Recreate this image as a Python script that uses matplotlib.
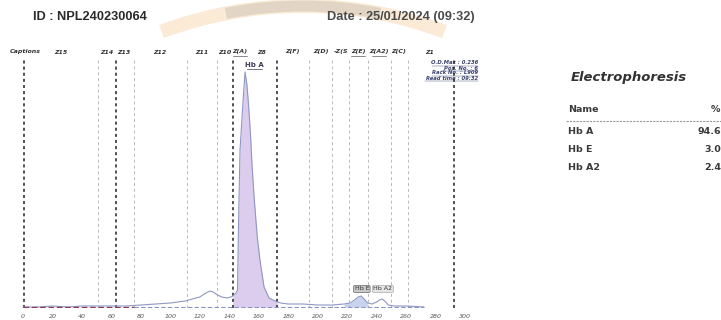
import numpy as np
import matplotlib
matplotlib.use('Agg')
import matplotlib.pyplot as plt
from matplotlib.patches import Arc

# Scan values (mobility, O.D.)
mobility = [0, 10, 20, 30, 40, 50, 60, 70, 80, 90, 100, 110, 115, 120, 123, 125.5, 127,
            129, 132, 135, 138.5, 141, 142.5, 144.6, 145.6, 146.0, 146.6, 147.3, 149.4,
            150.7, 152.0, 153.2, 154.5, 155.5, 157, 159, 161, 163.6, 167, 172.5, 175, 180,
            190, 200, 210, 218, 222, 225, 227.5, 229.5, 231.5, 234, 237, 240, 242, 243.8,
            245.5, 248, 252, 260, 272]
od = [0.000, 0.000, 0.001, 0.000, 0.001, 0.001, 0.001, 0.001, 0.002, 0.003, 0.004, 0.006,
      0.008, 0.010, 0.013, 0.015, 0.016, 0.015, 0.012, 0.010, 0.009, 0.010, 0.011, 0.014,
      0.017, 0.057, 0.107, 0.157, 0.207, 0.235, 0.222, 0.200, 0.170, 0.140, 0.107, 0.070,
      0.045, 0.020, 0.009, 0.005, 0.004, 0.003, 0.003, 0.002, 0.002, 0.003, 0.004, 0.007,
      0.010, 0.011, 0.008, 0.004, 0.003, 0.005, 0.007, 0.008, 0.006, 0.002, 0.001, 0.001,
      0.000]

zone_major = [1, 63, 142.5, 172.5, 292.6]
zone_minor = [51, 75, 111, 132, 194, 210, 221, 234, 250, 261]
zone_names = ['Z15', 'Z14', 'Z13', 'Z12', 'Z11', 'Z10', 'Z(A)', 'Z8', 'Z(F)', 'Z(D)',
              '-Z(S', 'Z(E)', 'Z(A2)', 'Z(C)', 'Z1']
zone_pos = [25.8, 57, 68.6, 93, 121.5, 137, 147.3, 162, 183, 202, 216, 227.4, 241.6, 255, 276]
underlined = ['Z(A)', 'Z(E)', 'Z(A2)']

hb_names = ['Hb A', 'Hb E', 'Hb A2']
hb_pct = ['94.6', '3.0', '2.4']
info = ['O.D.Max : 0.236', 'Pos. No. : 6', 'Rack No. : L909', 'Read time : 09:32']

x = np.array(mobility)
y = np.array(od)

fig = plt.figure(figsize=(7.21, 3.2), dpi=100)
fig.patch.set_facecolor('white')

# background layer in pixel coords (watermark + header text)
bg = fig.add_axes([0, 0, 1, 1], zorder=0)
bg.set_xlim(0, 721)
bg.set_ylim(320, 0)
bg.axis('off')
# y axis is inverted, so the top of the ring sits around 270 deg
bg.add_patch(Arc((303, 410), 2 * 404, 2 * 404, theta1=249.5, theta2=290.5,
                 color='#f2b46c', lw=10, alpha=0.28))
bg.add_patch(Arc((303, 410), 2 * 404, 2 * 404, theta1=259, theta2=281,
                 color='#8c8c8c', lw=8, alpha=0.22))

bg.text(33, 17, 'ID : NPL240230064', fontsize=9.2, fontweight='bold',
        family='Liberation Sans', color='#2a2a2a', va='center')
bg.text(327, 17, 'Date : 25/01/2024 (09:32)', fontsize=9.2, fontweight='bold',
        family='Liberation Sans', color='#4a4a4a', va='center')

# right panel table
bg.text(629, 77, 'Electrophoresis', fontsize=9.5, fontweight='bold', style='italic',
        color='#333333', ha='center', va='center')
bg.text(568, 110, 'Name', fontsize=6.8, fontweight='bold', color='#3a3a3a', va='center')
bg.text(720, 110, '%', fontsize=6.8, fontweight='bold', color='#3a3a3a', va='center', ha='right')
bg.plot([566, 721], [121, 121], color='#999999', lw=0.8, ls=(0, (2, 1)))
for i, (n, p) in enumerate(zip(hb_names, hb_pct)):
    yy = 131 + i * 18.5
    bg.text(568, yy, n, fontsize=6.8, fontweight='bold', color='#3a3a3a', va='center')
    bg.text(721, yy, p, fontsize=6.8, fontweight='bold', color='#3a3a3a', va='center', ha='right')

# info block above right of the scan
for i, t in enumerate(info):
    bg.text(478, 63 + i * 5, t, fontsize=3.8, fontweight='bold', style='italic',
            color='#3b4470', ha='right', va='center')

# main scan axes
ax = fig.add_axes([20 / 721, 1 - 308 / 320, 450 / 721, 248 / 320], zorder=1)
ax.patch.set_alpha(0)
ax.set_xlim(-2.04, 303.4)
ax.set_ylim(-0.001, 0.247)
for s in ax.spines.values():
    s.set_visible(False)
ax.set_yticks([])
ax.set_xticks(range(0, 301, 20))
ax.tick_params(axis='x', length=0, pad=4, labelsize=4.5, labelcolor='#555555')
for lab in ax.get_xticklabels():
    lab.set_style('italic')

for v in zone_minor:
    ax.axvline(v, color='#b8b8b8', lw=0.7, ls=(0, (3, 3)))
for v in zone_major:
    ax.axvline(v, color='#222222', lw=1.1, ls=(0, (2, 2)))

# filled fractions
m_a = (x >= 142.5) & (x <= 172.5)
ax.fill_between(x[m_a], 0, y[m_a], color='#dccdee', lw=0)
m_e = (x >= 218) & (x <= 234)
ax.fill_between(x[m_e], 0, y[m_e], color='#c9d3ee', lw=0)

ax.plot(x, y, color='#8f97c4', lw=0.8)
ax.plot([0, 75], [0, 0], color='#8a3b5c', lw=1.0, ls=(0, (4, 2)))
ax.plot([75, 272], [0, 0], color='#8795c0', lw=0.8, ls=(0, (4, 2)))

# captions row
ax.text(-8.8, 0.255, 'Captions', fontsize=4.5, fontweight='bold', style='italic',
        color='#333333', va='center', clip_on=False)
for n, p in zip(zone_names, zone_pos):
    ax.text(p, 0.255, n, fontsize=4.5, fontweight='bold', style='italic',
            color='#333333', va='center', ha='center', clip_on=False)

# peak labels
ax.text(156.8, 0.242, 'Hb A', fontsize=5, fontweight='bold', color='#3b3b55',
        ha='center', va='center')
ax.text(230, 0.018, 'Hb E', fontsize=4.5, color='#333333', ha='center', va='center',
        bbox=dict(boxstyle='round,pad=0.15', fc='#c8c8c8', ec='#666666', lw=0.5))
ax.text(244.3, 0.018, 'Hb A2', fontsize=4.5, color='#333333', ha='center', va='center',
        bbox=dict(boxstyle='round,pad=0.15', fc='#e4e4e4', ec='#aaaaaa', lw=0.5))

# underlines (Hb A label and selected captions)
bg.plot([247, 262], [69, 69], color='#3b3b55', lw=0.5)
for n, p in zip(zone_names, zone_pos):
    if n in underlined:
        px = 23 + p * 1.4733
        bg.plot([px - 7, px + 7], [55.5, 55.5], color='#333333', lw=0.4)
for i, t in enumerate(info):
    bg.plot([478 - len(t) * 3.1, 478], [65.5 + i * 5, 65.5 + i * 5], color='#3b4470', lw=0.3)

fig.savefig('out.png', dpi=100)
